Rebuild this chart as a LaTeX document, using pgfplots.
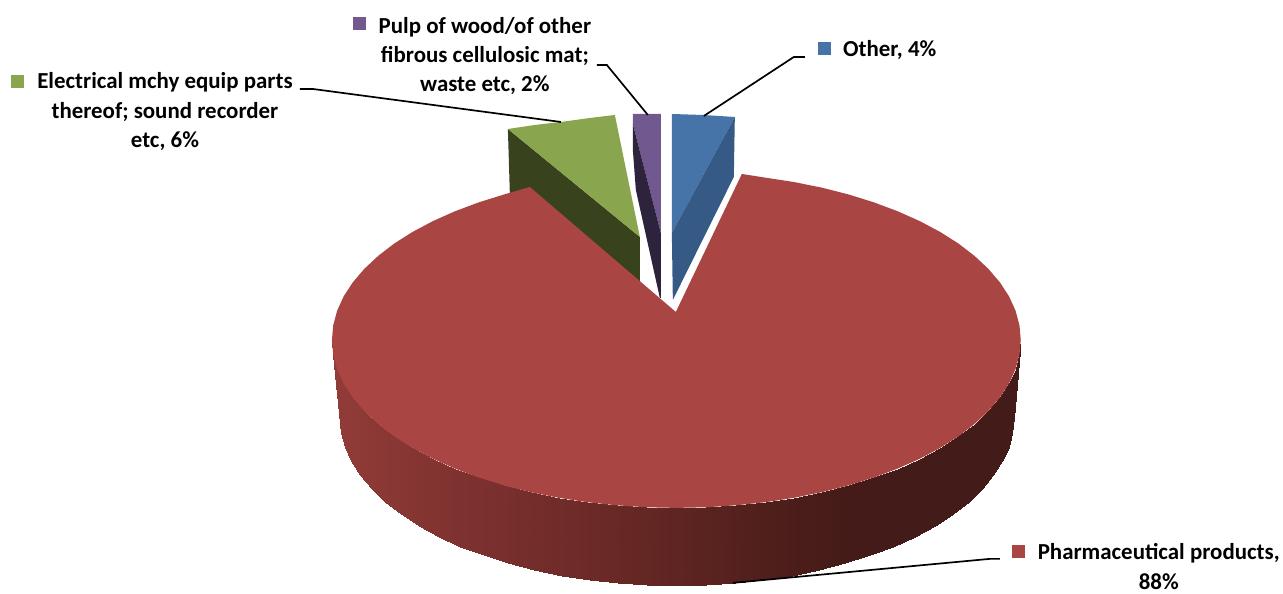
\documentclass[border=0pt]{standalone}
\usepackage{pgfplots}
\usepackage{fontspec}
\setmainfont{Carlito}
\pgfplotsset{compat=1.18}
\definecolor{pieblue}{HTML}{4673A8}
\definecolor{pieblued}{HTML}{345A85}
\definecolor{piered}{HTML}{A94542}
\definecolor{piegreen}{HTML}{89A54E}
\definecolor{piegreend}{HTML}{38431E}
\definecolor{piepurple}{HTML}{71588F}
\definecolor{piepurpled}{HTML}{2D233C}
\newcommand{\lab}{\fontsize{23}{26}\selectfont\bfseries}
\begin{document}
\begin{tikzpicture}
\begin{axis}[
    scale only axis,
    width=1283bp, height=589bp,
    xmin=0, xmax=1283,
    ymin=0, ymax=589,
    y dir=reverse,
    hide axis,
    clip=false,
    colormap={pieside}{rgb255=(146,60,57) rgb255=(132,53,50) rgb255=(120,47,45) rgb255=(108,42,39) rgb255=(95,37,34) rgb255=(80,31,28) rgb255=(68,27,24) rgb255=(67,27,24) rgb255=(67,27,24)},
    point meta min=332, point meta max=1021,
]
% hidden axis gives no bounding box
\path (axis cs:0,0) rectangle (axis cs:1283,589);
% green slice
\addplot[fill=piegreend, draw=none] coordinates {(508,129) (640,237) (640,285) (510,195)} --cycle;
\addplot[fill=piegreen, draw=none] coordinates {(508,129) (535,125) (561,122) (590,118) (615,115) (640,237)} --cycle;
% purple slice
\addplot[fill=piepurple, draw=none] coordinates {(633,114) (661,114) (661,233) (633,124)} --cycle;
\addplot[fill=piepurpled, draw=none] coordinates {(633,124) (661,233) (661,298) (660,298) (636,190) (633,150)} --cycle;
% blue slice
\addplot[fill=pieblue, draw=none] coordinates {(672,114) (703,115) (735,117) (672,233)} --cycle;
\addplot[fill=pieblued, draw=none] coordinates {(735,117) (734,177) (673,300) (672,233)} --cycle;
% red rim, two rows of 37 points
\addplot[surf, shader=interp, mesh/rows=2, point meta=x] table {
x y
332 340
333.3 354.6
337.2 369.2
343.7 383.5
352.8 397.5
364.3 411
378.2 424
394.3 436.4
412.6 448
432.9 458.8
455.1 468.7
478.9 477.6
504.2 485.5
530.9 492.3
558.7 497.9
587.3 502.3
616.7 505.4
646.5 507.4
676.5 508
706.5 507.4
736.3 505.4
765.7 502.3
794.3 497.9
822.1 492.3
848.8 485.5
874.1 477.6
897.9 468.7
920.1 458.8
940.4 448
958.7 436.4
974.8 424
988.7 411
1000.2 397.5
1009.3 383.5
1015.8 369.2
1019.7 354.6
1021 340
340 418
341.3 432.6
345.1 447.2
351.5 461.5
360.3 475.5
371.6 489
385.2 502
400.9 514.4
418.9 526
438.7 536.8
460.4 546.7
483.7 555.6
508.5 563.5
534.6 570.3
561.7 575.9
589.8 580.3
618.5 583.4
647.6 585.4
677 586
706.4 585.4
735.5 583.4
764.2 580.3
792.3 575.9
819.4 570.3
845.5 563.5
870.3 555.6
893.6 546.7
915.3 536.8
935.1 526
953.1 514.4
968.8 502
982.4 489
993.7 475.5
1002.5 461.5
1008.9 447.2
1012.7 432.6
1014 418
};
% red top face
\addplot[fill=piered, draw=none] coordinates {
(676,312) (742,174) (765.7,177.7) (794.3,182.1) (822.1,187.7) (848.8,194.5)
(874.1,202.4) (897.9,211.3) (920.1,221.2) (940.4,232) (958.7,243.6) (974.8,256)
(988.7,269) (1000.2,282.5) (1009.3,296.5) (1015.8,310.8) (1019.7,325.4) (1021,340)
(1019.7,354.6) (1015.8,369.2) (1009.3,383.5) (1000.2,397.5) (988.7,411) (974.8,424)
(958.7,436.4) (940.4,448) (920.1,458.8) (897.9,468.7) (874.1,477.6) (848.8,485.5)
(822.1,492.3) (794.3,497.9) (765.7,502.3) (736.3,505.4) (706.5,507.4) (676.5,508)
(646.5,507.4) (616.7,505.4) (587.3,502.3) (558.7,497.9) (530.9,492.3) (504.2,485.5)
(478.9,477.6) (455.1,468.7) (432.9,458.8) (412.6,448) (394.3,436.4) (378.2,424)
(364.3,411) (352.8,397.5) (343.7,383.5) (337.2,369.2) (333.3,354.6) (332,340)
(333.3,325.4) (337.2,310.8) (343.7,296.5) (352.8,282.5) (364.3,269) (378.2,256)
(394.3,243.6) (412.6,232) (432.9,221.2) (455.1,211.3) (478.9,202.4) (504.2,194.5)
(530,187)} --cycle;
% leader lines
\addplot[black, line width=1.7pt] coordinates {(300,89) (313,89) (561,122)};
\addplot[black, line width=1.7pt] coordinates {(597,65) (607,65) (648,115)};
\addplot[black, line width=1.7pt] coordinates {(805,57) (794,57) (704,116)};
\addplot[black, line width=1.7pt] coordinates {(733,583) (990,559) (1000,559)};
% legend keys
\addplot[fill=piegreen, draw=none] coordinates {(11,75) (24,75) (24,88) (11,88)} --cycle;
\addplot[fill=piepurple, draw=none] coordinates {(353,17) (366,17) (366,30) (353,30)} --cycle;
\addplot[fill=pieblue, draw=none] coordinates {(818,42) (831,42) (831,55) (818,55)} --cycle;
\addplot[fill=piered, draw=none] coordinates {(1012,545) (1025,545) (1025,558) (1012,558)} --cycle;
% labels
\node[font=\lab] at (axis cs:485,27) {Pulp of wood/of other};
\node[font=\lab] at (axis cs:485,56) {fibrous cellulosic mat;};
\node[font=\lab] at (axis cs:485,85) {waste etc, 2\%};
\node[font=\lab] at (axis cs:165,82) {Electrical mchy equip parts};
\node[font=\lab] at (axis cs:165,112) {thereof; sound recorder};
\node[font=\lab] at (axis cs:165,141) {etc, 6\%};
\node[font=\lab] at (axis cs:890,50) {Other, 4\%};
\node[font=\lab] at (axis cs:1159,553) {Pharmaceutical products,};
\node[font=\lab] at (axis cs:1159,582) {88\%};
\end{axis}
\end{tikzpicture}
\end{document}
